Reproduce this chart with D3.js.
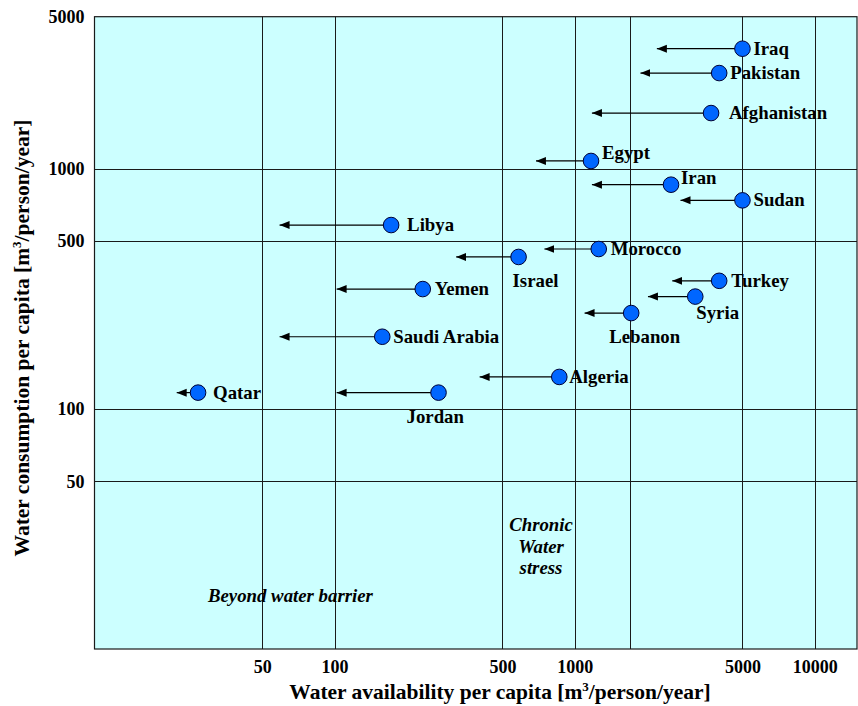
<!DOCTYPE html>
<html>
<head>
<meta charset="utf-8">
<script src="https://cdn.jsdelivr.net/npm/d3@7"></script>
<style>
    body { margin: 0; background: #ffffff; }
    svg text { font-family: "Liberation Serif", "Times New Roman", serif; font-weight: bold; fill: #000000; }
</style>
</head>
<body>
<div class="chart"></div>
<script>

// Countries with current availability, consumption and projected availability
var countries = ["Iraq", "Pakistan", "Afghanistan", "Egypt", "Iran", "Sudan",
    "Libya", "Morocco", "Israel", "Yemen", "Turkey", "Syria",
    "Lebanon", "Saudi Arabia", "Algeria", "Jordan", "Qatar"];
var availability = [5000, 4000, 3700, 1170, 2520, 5000,
    172, 1260, 584, 233, 4000, 3180,
    1720, 158, 863, 271, 27];
var consumption = [3170, 2510, 1710, 1080, 860, 740,
    584, 464, 430, 316, 342, 294,
    251, 200, 136, 117, 117];
var futureAvailability = [2200, 1880, 1180, 690, 1180, 2760,
    59, 748, 321, 102, 2550, 2020,
    1100, 59, 402, 102, 22];

// Axis ticks and grid
var xTicks = [50, 100, 500, 1000, 5000, 10000];
var xGrid = [50, 100, 500, 1000, 1700, 5000, 10000];
var yTicks = [50, 100, 500, 1000, 5000];
var yGrid = [50, 100, 500, 1000];

// Where each label sits relative to its circle
var labelOffsets = {
    "Iraq": [11, 6], "Pakistan": [11, 6], "Afghanistan": [18, 6],
    "Egypt": [11, -2], "Iran": [10, -1], "Sudan": [11, 6],
    "Libya": [16, 6], "Morocco": [12, 6], "Israel": [-6, 30],
    "Yemen": [12, 6], "Turkey": [12, 6], "Syria": [1, 22],
    "Lebanon": [-22, 30], "Saudi Arabia": [11, 6], "Algeria": [10, 6],
    "Jordan": [-32, 30], "Qatar": [15, 6]
};

var width = 858,
    height = 706;
var plot = { left: 94.5, top: 16.7, right: 857, bottom: 649 };

var svg = d3.select(".chart")
    .append("svg")
        .attr("width", width)
        .attr("height", height);

// Log scales, y is clamped so the 5000 label sits on the top edge
var x = d3.scaleLog()
    .domain([10, 15000])
    .range([plot.left, plot.right]);

var y = d3.scaleLog()
    .domain([10, 4310])
    .range([plot.bottom, plot.top])
    .clamp(true);

// Arrowhead marker
svg.append("defs").append("marker")
    .attr("id", "arrow")
    .attr("markerUnits", "userSpaceOnUse")
    .attr("markerWidth", 11)
    .attr("markerHeight", 9)
    .attr("refX", 10)
    .attr("refY", 4.5)
    .attr("orient", "auto")
    .append("path")
        .attr("d", "M0,0.5 L10,4.5 L0,8.5 Z")
        .style("fill", "#000000");

// Plot background
svg.append("rect")
    .attr("x", plot.left)
    .attr("y", plot.top)
    .attr("width", plot.right - plot.left)
    .attr("height", plot.bottom - plot.top)
    .style("fill", "#ccffff");

// Gridlines
svg.selectAll(".xgrid")
    .data(xGrid)
    .enter().append("line")
        .attr("class", "xgrid")
        .attr("x1", function(d) { return Math.round(x(d)) + 0.5; })
        .attr("x2", function(d) { return Math.round(x(d)) + 0.5; })
        .attr("y1", plot.top)
        .attr("y2", plot.bottom)
        .style("stroke", "#1a1a1a")
        .style("stroke-width", 1);

svg.selectAll(".ygrid")
    .data(yGrid)
    .enter().append("line")
        .attr("class", "ygrid")
        .attr("x1", plot.left)
        .attr("x2", plot.right)
        .attr("y1", function(d) { return Math.round(y(d)) + 0.5; })
        .attr("y2", function(d) { return Math.round(y(d)) + 0.5; })
        .style("stroke", "#1a1a1a")
        .style("stroke-width", 1);

// Plot border
svg.append("rect")
    .attr("x", plot.left)
    .attr("y", plot.top)
    .attr("width", plot.right - plot.left)
    .attr("height", plot.bottom - plot.top)
    .style("fill", "none")
    .style("stroke", "#1a1a1a")
    .style("stroke-width", 1.2);

// Axes, labels only
var xAxis = d3.axisBottom(x)
    .tickValues(xTicks)
    .tickFormat(d3.format("d"))
    .tickSize(0)
    .tickPadding(11);

var yAxis = d3.axisLeft(y)
    .tickValues(yTicks)
    .tickFormat(d3.format("d"))
    .tickSize(0)
    .tickPadding(10);

svg.append("g")
    .attr("class", "xAxis")
    .attr("transform", "translate(0," + plot.bottom + ")")
    .call(xAxis);

svg.append("g")
    .attr("class", "yAxis")
    .attr("transform", "translate(" + plot.left + ",0)")
    .call(yAxis);

svg.selectAll(".xAxis path, .yAxis path").remove();
svg.selectAll(".xAxis text, .yAxis text")
    .style("font-family", "'Liberation Serif', 'Times New Roman', serif")
    .style("font-weight", "bold")
    .style("font-size", "18px")
    .style("fill", "#000000");

// Axis titles
var xTitle = svg.append("text")
    .attr("x", 500)
    .attr("y", 699)
    .attr("text-anchor", "middle")
    .style("font-size", "21.5px");
xTitle.append("tspan").text("Water availability per capita [m");
xTitle.append("tspan").attr("dy", -8).style("font-size", "13px").text("3");
xTitle.append("tspan").attr("dy", 8).text("/person/year]");

var yTitle = svg.append("text")
    .attr("transform", "translate(29,338) rotate(-90)")
    .attr("text-anchor", "middle")
    .style("font-size", "21.5px");
yTitle.append("tspan").text("Water consumption per capita [m");
yTitle.append("tspan").attr("dy", -8).style("font-size", "13px").text("3");
yTitle.append("tspan").attr("dy", 8).text("/person/year]");

// Region notes
var stress = ["Chronic", "Water", "stress"];
svg.selectAll(".note")
    .data(stress)
    .enter().append("text")
        .attr("class", "note")
        .attr("x", 541)
        .attr("y", function(d, i) { return 531 + i * 21.5; })
        .attr("text-anchor", "middle")
        .style("font-style", "italic")
        .style("font-size", "18.8px")
        .text(function(d) { return d; });

svg.append("text")
    .attr("x", 208)
    .attr("y", 602)
    .style("font-style", "italic")
    .style("font-size", "18.8px")
    .text("Beyond water barrier");

// Arrows from current to projected availability
svg.selectAll(".arrow")
    .data(countries)
    .enter().append("line")
        .attr("class", "arrow")
        .attr("x1", function(d, i) { return x(availability[i]); })
        .attr("x2", function(d, i) { return x(futureAvailability[i]); })
        .attr("y1", function(d, i) { return y(consumption[i]); })
        .attr("y2", function(d, i) { return y(consumption[i]); })
        .attr("marker-end", "url(#arrow)")
        .style("stroke", "#000000")
        .style("stroke-width", 1.2);

// Country circles
svg.selectAll(".dot")
    .data(countries)
    .enter().append("circle")
        .attr("class", "dot")
        .attr("cx", function(d, i) { return x(availability[i]); })
        .attr("cy", function(d, i) { return y(consumption[i]); })
        .attr("r", 7.8)
        .style("fill", "#0066ff")
        .style("stroke", "#000033")
        .style("stroke-width", 1);

// Country labels
svg.selectAll(".label")
    .data(countries)
    .enter().append("text")
        .attr("class", "label")
        .attr("x", function(d, i) { return x(availability[i]) + labelOffsets[d][0]; })
        .attr("y", function(d, i) { return y(consumption[i]) + labelOffsets[d][1]; })
        .style("font-size", "18.8px")
        .text(function(d) { return d; });

</script>
</body>
</html>
